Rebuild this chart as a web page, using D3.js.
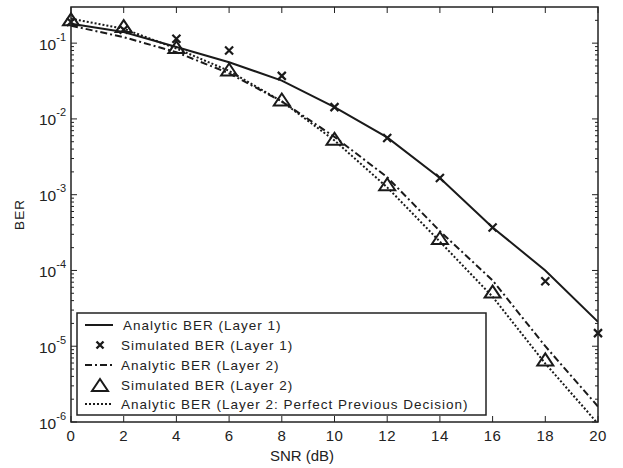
<!DOCTYPE html>
<meta charset="utf-8">
<style>
  body { margin: 0; background: #fff; }
  text { font-family: "Liberation Sans", Arial, sans-serif; fill: #222; }
</style>
<script src="https://d3js.org/d3.v7.min.js"></script>
<div id="my_dataviz"></div>
<script>

// SNR points (dB)
var snr = [0, 2, 4, 6, 8, 10, 12, 14, 16, 18, 20];

// BER values
var analyticL1 = [0.18, 0.14, 0.089, 0.056, 0.032, 0.0143, 0.0057, 0.00166, 0.00037, 0.0001, 0.000021];
var simulatedL1 = [0.19, 0.15, 0.114, 0.08, 0.037, 0.0143, 0.0056, 0.00166, 0.00037, 0.000072, 0.0000149];
var analyticL2 = [0.17, 0.12, 0.076, 0.040, 0.017, 0.0058, 0.0017, 0.00033, 0.000074, 0.00001, 0.0000016];
var simulatedL2 = [0.2, 0.163, 0.086, 0.0436, 0.0175, 0.0053, 0.00133, 0.00026, 0.000051, 0.0000065];
var perfectL2 = [0.21, 0.155, 0.085, 0.043, 0.017, 0.0052, 0.00125, 0.00024, 0.000045, 0.0000059, 0.00000095];

var yTicks = [1e-6, 1e-5, 1e-4, 1e-3, 1e-2, 1e-1];
var xTicks = [0, 2, 4, 6, 8, 10, 12, 14, 16, 18, 20];

var legendLabels = [
  "Analytic BER (Layer 1)",
  "Simulated BER (Layer 1)",
  "Analytic BER (Layer 2)",
  "Simulated BER (Layer 2)",
  "Analytic BER (Layer 2: Perfect Previous Decision)"
];

var margin = {top: 7, right: 25, bottom: 46, left: 71},
    width = 623 - margin.left - margin.right,
    height = 468 - margin.top - margin.bottom;

var svg = d3.select("#my_dataviz")
  .append("svg")
    .attr("width", 623)
    .attr("height", 468)
  .append("g")
    .attr("transform", "translate(" + margin.left + "," + margin.top + ")");

var x = d3.scaleLinear().domain([0, 20]).range([0, width]);
var y = d3.scaleLog().domain([1e-6, 0.3]).range([height, 0]);

// clip so lines stop at the frame
svg.append("clipPath").attr("id", "clip")
  .append("rect").attr("width", width).attr("height", height);

// x ticks (inward, bottom and top)
svg.selectAll(".xtb").data(xTicks).enter().append("line")
  .attr("x1", function(d){ return x(d); }).attr("x2", function(d){ return x(d); })
  .attr("y1", height).attr("y2", height - 6)
  .attr("stroke", "#222").attr("stroke-width", 1);
svg.selectAll(".xtt").data(xTicks).enter().append("line")
  .attr("x1", function(d){ return x(d); }).attr("x2", function(d){ return x(d); })
  .attr("y1", 0).attr("y2", 6)
  .attr("stroke", "#222").attr("stroke-width", 1);

// y ticks: major + minor, left and right
var minor = [];
for (var e = -6; e <= -1; e++) {
  for (var m = 2; m <= 9; m++) {
    var v = m * Math.pow(10, e);
    if (v <= 0.3) minor.push(v);
  }
}
[0, width].forEach(function(edge) {
  var dir = edge === 0 ? 1 : -1;
  svg.selectAll(null).data(yTicks).enter().append("line")
    .attr("x1", edge).attr("x2", edge + dir * 6)
    .attr("y1", function(d){ return y(d); }).attr("y2", function(d){ return y(d); })
    .attr("stroke", "#222").attr("stroke-width", 1);
  svg.selectAll(null).data(minor).enter().append("line")
    .attr("x1", edge).attr("x2", edge + dir * 3)
    .attr("y1", function(d){ return y(d); }).attr("y2", function(d){ return y(d); })
    .attr("stroke", "#222").attr("stroke-width", 1);
});

// tick labels
svg.selectAll(".xl").data(xTicks).enter().append("text")
  .attr("x", function(d){ return x(d); })
  .attr("y", height + 19)
  .attr("text-anchor", "middle")
  .style("font-size", "15px")
  .style("letter-spacing", "0.5px")
  .text(function(d){ return d; });

var yl = svg.selectAll(".yl").data(yTicks).enter().append("text")
  .attr("x", -5)
  .attr("y", function(d){ return y(d) + 6.5; })
  .attr("text-anchor", "end")
  .style("font-size", "15.5px");
yl.append("tspan").text("10");
yl.append("tspan")
  .attr("dy", -9)
  .style("font-size", "11px")
  .text(function(d){ return Math.round(Math.log10(d)); });

// axis titles
svg.append("text")
  .attr("x", 231).attr("y", height + 39)
  .attr("text-anchor", "middle")
  .style("font-size", "15px")
  .text("SNR (dB)");
svg.append("text")
  .attr("transform", "translate(" + (-47.5) + "," + (height / 2) + ") rotate(-90)")
  .attr("text-anchor", "middle")
  .style("font-size", "13.5px")
  .style("letter-spacing", "1px")
  .text("BER");

var plot = svg.append("g").attr("clip-path", "url(#clip)");

var line = d3.line()
  .x(function(d){ return x(d[0]); })
  .y(function(d){ return y(d[1]); });

function pairs(vals) { return vals.map(function(v, i){ return [snr[i], v]; }); }

plot.append("path").datum(pairs(analyticL1))
  .attr("d", line).attr("fill", "none").attr("stroke", "#1a1a1a").attr("stroke-width", 2);
plot.append("path").datum(pairs(analyticL2))
  .attr("d", line).attr("fill", "none").attr("stroke", "#1a1a1a").attr("stroke-width", 2)
  .attr("stroke-dasharray", "7,3,2,3");
plot.append("path").datum(pairs(perfectL2))
  .attr("d", line).attr("fill", "none").attr("stroke", "#1a1a1a").attr("stroke-width", 2)
  .attr("stroke-dasharray", "2,2");

// x markers
svg.append("g").selectAll("path").data(pairs(simulatedL1)).enter().append("path")
  .attr("transform", function(d){ return "translate(" + x(d[0]) + "," + y(d[1]) + ")"; })
  .attr("d", "M-4,-4L4,4M-4,4L4,-4")
  .attr("stroke", "#1a1a1a").attr("stroke-width", 2.2).attr("fill", "none");

// triangle markers
var tri = "M0,-7L8,5L-8,5Z";
svg.append("g").selectAll("path").data(pairs(simulatedL2)).enter().append("path")
  .attr("transform", function(d){ return "translate(" + x(d[0]) + "," + y(d[1]) + ")"; })
  .attr("d", tri)
  .attr("stroke", "#1a1a1a").attr("stroke-width", 2).attr("fill", "none")
  .attr("stroke-linejoin", "miter");

// frame
svg.append("rect")
  .attr("width", width).attr("height", height)
  .attr("fill", "none").attr("stroke", "#222").attr("stroke-width", 1.5);

// legend
var lg = svg.append("g").attr("transform", "translate(6," + 306 + ")");
lg.append("rect")
  .attr("width", 409).attr("height", 102)
  .attr("fill", "#fff").attr("stroke", "#222").attr("stroke-width", 1.5);
var rowY = [12, 32, 52, 72, 91];
var styles = ["line", "x", "dashdot", "tri", "dot"];
legendLabels.forEach(function(lab, i) {
  var ry = rowY[i];
  var s = styles[i];
  if (s === "line" || s === "dashdot" || s === "dot") {
    lg.append("line").attr("x1", 8).attr("x2", 36).attr("y1", ry).attr("y2", ry)
      .attr("stroke", "#1a1a1a").attr("stroke-width", 2)
      .attr("stroke-dasharray", s === "dashdot" ? "7,3,2,3" : (s === "dot" ? "2,2" : null));
  } else if (s === "x") {
    lg.append("path").attr("transform", "translate(23," + ry + ")")
      .attr("d", "M-3.5,-3.5L3.5,3.5M-3.5,3.5L3.5,-3.5")
      .attr("stroke", "#1a1a1a").attr("stroke-width", 2.4);
  } else {
    lg.append("path").attr("transform", "translate(23," + (ry + 1) + ")")
      .attr("d", tri).attr("fill", "none")
      .attr("stroke", "#1a1a1a").attr("stroke-width", 2);
  }
  lg.append("text")
    .attr("x", s === "line" ? 46 : 44).attr("y", ry + 5)
    .style("font-size", "13.5px")
    .style("letter-spacing", "1px")
    .text(lab);
});

</script>
